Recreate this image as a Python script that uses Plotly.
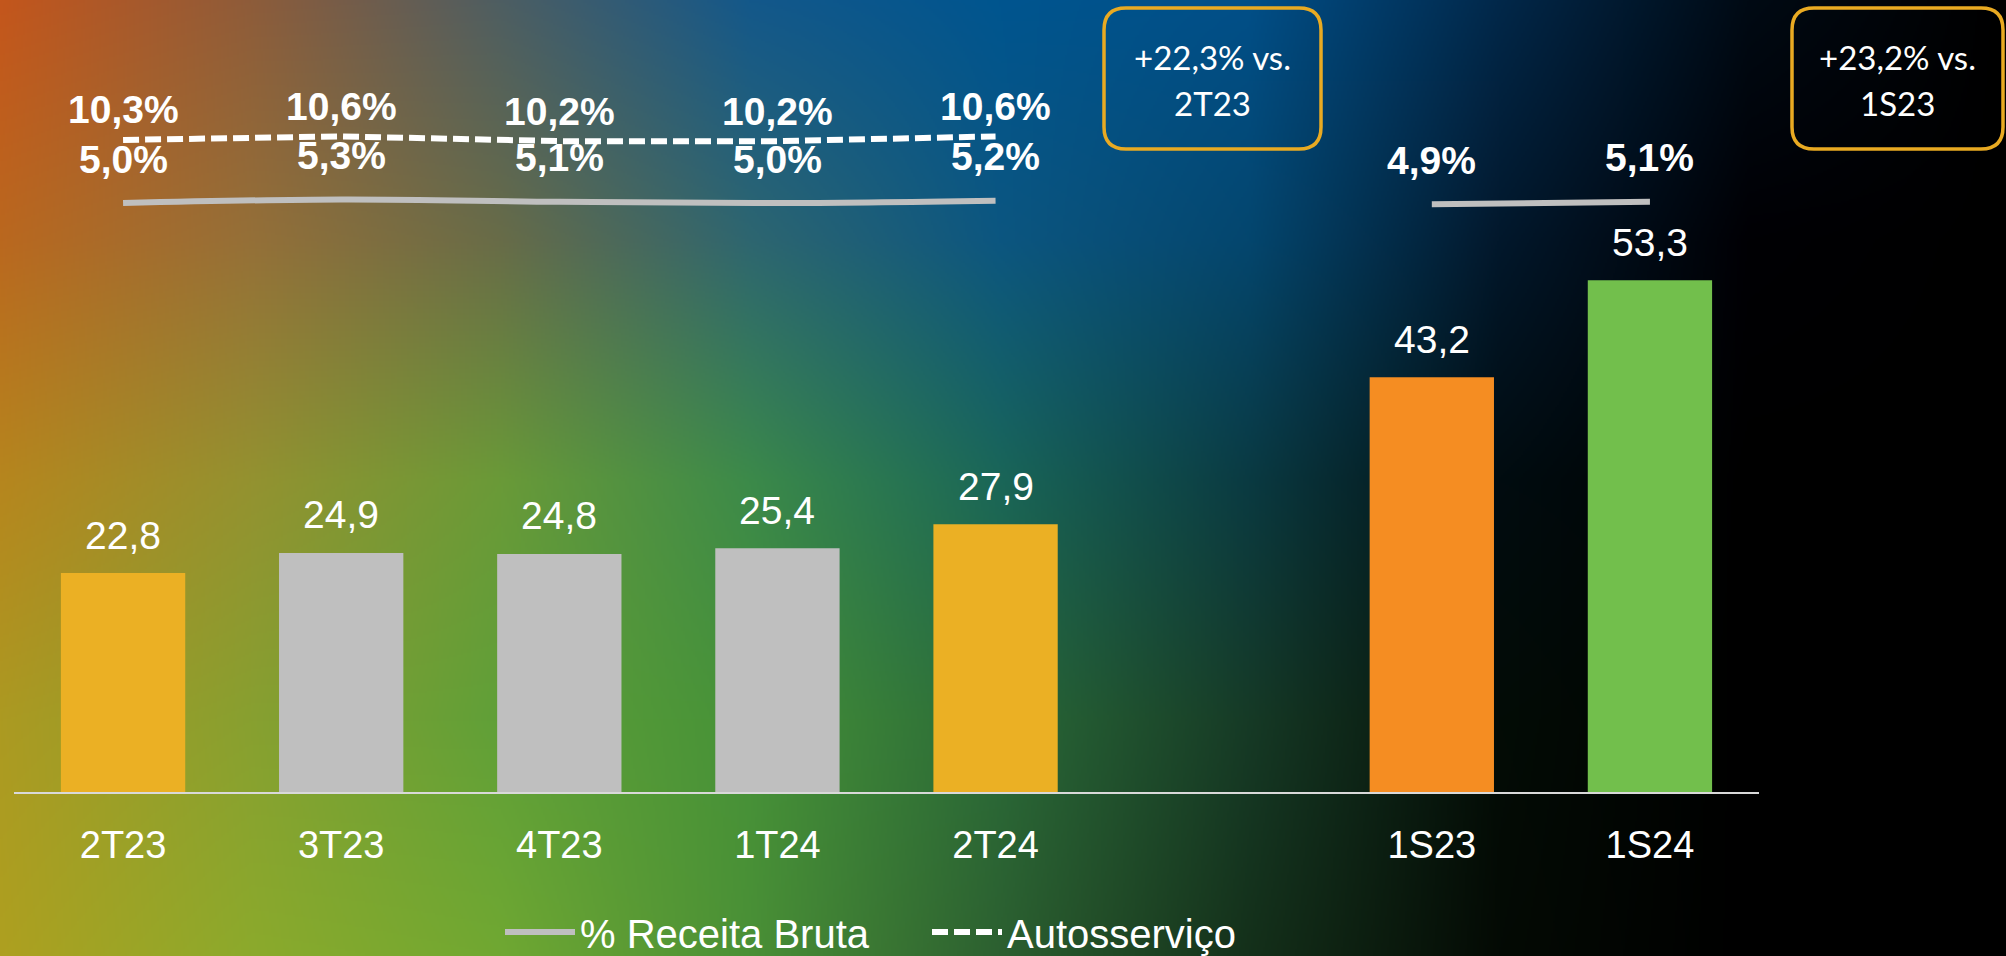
import base64
import struct
import zlib

import numpy as np
import plotly.graph_objects as go

# data
quarters = ['2T23', '3T23', '4T23', '1T24', '2T24']
semesters = ['1S23', '1S24']
gap_slot = ' '
quarter_values = [22.8, 24.9, 24.8, 25.4, 27.9]
semester_values = [43.2, 53.3]
quarter_receita_pct = [5.0, 5.3, 5.1, 5.0, 5.2]
semester_receita_pct = [4.9, 5.1]
quarter_autosservico_pct = [10.3, 10.6, 10.2, 10.2, 10.6]
growth_notes = [('+22,3% vs.', '2T23'), ('+23,2% vs.', '1S23')]

categories = quarters + [gap_slot] + semesters

W, H = 2006, 956
L, R, T, B = 14, 247, 60, 164
PW, PH = W - L - R, H - T - B


def px_x(p):
    return (p - L) / PW


def px_y(p):
    return (H - B - p) / PH


def br(v):
    return f'{v:.1f}'.replace('.', ',')


# background gradient (slide decoration), built as a small png
bg_x = [0, 250, 500, 750, 1000, 1250, 1500, 1750, 2006]
bg_y = [0, 240, 480, 720, 956]
bg_rows = [
    ['C4561C', '8E5C3A', '4E5E62', '14588A', '00558F', '014F88', '02284A', '000A14', '000000'],
    ['BA681F', '957038', '686C48', '2E6670', '0C5680', '04466E', '02182C', '000004', '000000'],
    ['B6861E', '949230', '6A9A38', '3C8A4A', '1A6658', '0A3A42', '010C10', '000000', '000000'],
    ['AC9A22', '88A030', '60A038', '469238', '2A6A38', '163A26', '030C06', '000000', '000000'],
    ['AEA020', '8CAA2C', '70A832', '4A9036', '2C6030', '14301A', '040A04', '000000', '000000'],
]


def make_background(w=1003, h=478):
    grid = np.array([[[int(c[i:i + 2], 16) for i in (0, 2, 4)] for c in row] for row in bg_rows], float)
    xs = np.linspace(0, W, w)
    ys = np.linspace(0, H, h)
    tmp = np.empty((len(bg_y), w, 3))
    for r in range(len(bg_y)):
        for ch in range(3):
            tmp[r, :, ch] = np.interp(xs, bg_x, grid[r, :, ch])
    img = np.empty((h, w, 3))
    for col in range(w):
        for ch in range(3):
            img[:, col, ch] = np.interp(ys, bg_y, tmp[:, col, ch])
    img = np.clip(img, 0, 255).astype(np.uint8)
    raw = b''.join(b'\x00' + img[y].tobytes() for y in range(h))

    def chunk(tag, data):
        return struct.pack('>I', len(data)) + tag + data + struct.pack('>I', zlib.crc32(tag + data) & 0xffffffff)

    png = (b'\x89PNG\r\n\x1a\n' + chunk(b'IHDR', struct.pack('>IIBBBBB', w, h, 8, 2, 0, 0, 0))
           + chunk(b'IDAT', zlib.compress(raw, 9)) + chunk(b'IEND', b''))
    return 'data:image/png;base64,' + base64.b64encode(png).decode()


GOLD = '#EBB024'
GREY = '#BFBFBF'
ORANGE = '#F58D22'
GREEN = '#72BF4C'
quarter_colors = [GOLD, GREY, GREY, GREY, GOLD]
semester_colors = [ORANGE, GREEN]

fig = go.Figure()

fig.add_trace(go.Bar(x=quarters + semesters, y=quarter_values + semester_values,
                     marker=dict(color=quarter_colors + semester_colors, line_width=0),
                     width=0.57, showlegend=False, hoverinfo='skip'))

fig.add_trace(go.Scatter(x=quarters, y=quarter_receita_pct, yaxis='y2', mode='lines',
                         name='% Receita Bruta', line=dict(color=GREY, width=6, shape='spline'),
                         legendgroup='rb', hoverinfo='skip'))
fig.add_trace(go.Scatter(x=semesters, y=semester_receita_pct, yaxis='y2', mode='lines',
                         name='% Receita Bruta', line=dict(color=GREY, width=6),
                         legendgroup='rb', showlegend=False, hoverinfo='skip'))
fig.add_trace(go.Scatter(x=quarters, y=quarter_autosservico_pct, yaxis='y2', mode='lines',
                         name='Autosserviço', line=dict(color='white', width=6, dash='16px,6px'),
                         hoverinfo='skip'))

ann = []
label_font = dict(family='Liberation Sans, Arial', size=39, color='white')
bold_font = dict(family='Liberation Sans, Arial', size=39, color='white', weight='bold')
for c, v in zip(quarters + semesters, quarter_values + semester_values):
    ann.append(dict(x=c, y=v, xref='x', yref='y', text=br(v), showarrow=False,
                    yanchor='middle', yshift=38, font=label_font))
for c, v in zip(quarters + semesters, quarter_receita_pct + semester_receita_pct):
    ann.append(dict(x=c, y=v, xref='x', yref='y2', text=f'<b>{br(v)}%</b>', showarrow=False,
                    yanchor='middle', yshift=44, font=bold_font))
for c, v in zip(quarters, quarter_autosservico_pct):
    ann.append(dict(x=c, y=v, xref='x', yref='y2', text=f'<b>{br(v)}%</b>', showarrow=False,
                    yanchor='middle', yshift=30, font=bold_font))

shapes = []
boxes = [(1104, 1321), (1792, 2003)]
for (bx0, bx1), (line1, line2) in zip(boxes, growth_notes):
    x0, x1 = px_x(bx0), px_x(bx1)
    y1, y0 = px_y(8), px_y(149)
    rx, ry = 22 / PW, 22 / PH
    path = (f'M {x0 + rx},{y1} L {x1 - rx},{y1} Q {x1},{y1} {x1},{y1 - ry} '
            f'L {x1},{y0 + ry} Q {x1},{y0} {x1 - rx},{y0} L {x0 + rx},{y0} '
            f'Q {x0},{y0} {x0},{y0 + ry} L {x0},{y1 - ry} Q {x0},{y1} {x0 + rx},{y1} Z')
    shapes.append(dict(type='path', path=path, xref='paper', yref='paper',
                       line=dict(color='#E9AA22', width=3.5), fillcolor='rgba(0,0,0,0)'))
    cx = (x0 + x1) / 2
    box_font = dict(family='Lato, Open Sans', size=33, color='white')
    ann.append(dict(x=cx, y=px_y(57), xref='paper', yref='paper', text=line1, showarrow=False,
                    xanchor='center', yanchor='middle', font=box_font))
    ann.append(dict(x=cx, y=px_y(103), xref='paper', yref='paper', text=line2, showarrow=False,
                    xanchor='center', yanchor='middle', font=box_font))

fig.update_layout(
    width=W, height=H,
    margin=dict(l=L, r=R, t=T, b=B, autoexpand=False),
    paper_bgcolor='black', plot_bgcolor='rgba(0,0,0,0)',
    font=dict(family='Liberation Sans, Arial', color='white', size=38),
    xaxis=dict(type='category', categoryorder='array', categoryarray=categories,
               range=[-0.5, len(categories) - 0.5], showline=True, linecolor='#D9D9D9',
               linewidth=2, showgrid=False, zeroline=False, ticks='',
               tickfont=dict(size=38, color='white'), ticklabelstandoff=18, automargin=False),
    yaxis=dict(range=[0, PH / 9.6], visible=False, showgrid=False, zeroline=False),
    yaxis2=dict(range=[-44.5, 17.02], overlaying='y', visible=False, showgrid=False, zeroline=False),
    showlegend=True,
    legend=dict(orientation='h', x=px_x(500), xanchor='left', y=px_y(932), yanchor='middle',
                bgcolor='rgba(0,0,0,0)', font=dict(size=40, color='white'), itemwidth=70,
                entrywidth=342),
    annotations=ann,
    shapes=shapes,
    images=[dict(source=make_background(), xref='paper', yref='paper',
                 x=px_x(0), y=px_y(0), sizex=W / PW, sizey=H / PH,
                 xanchor='left', yanchor='top', sizing='stretch', layer='below')],
)

fig.write_html('out.html', config={'displayModeBar': False},
               post_script="document.body.style.margin='0';document.body.style.overflow='hidden';")
